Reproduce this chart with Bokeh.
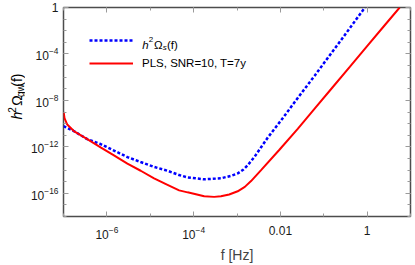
import numpy as np
from bokeh.plotting import figure
from bokeh.layouts import row
from bokeh.core.properties import value
from bokeh.models import (LogAxis, FixedTicker, LogTickFormatter, Label,
                          Legend, LegendItem)
from bokeh.embed import file_html
from bokeh.resources import INLINE

# ---- data (log10 of frequency [Hz] and of h^2 Omega_gw) ----
signal_logf = [-7.0, -6.954, -6.762, -6.452, -6.145, -5.837, -5.527, -5.22,
               -4.912, -4.602, -4.334, -4.14, -3.756, -3.37, -3.14, -2.984,
               -2.85, -2.753, -2.6, -2.445, -2.29, -1.98, -1.6, -1.21, -0.83,
               -0.6, -0.05]
signal_logomega = [-10.22, -10.30, -10.64, -11.34, -11.76, -12.32, -12.88,
                   -13.31, -13.73, -14.06, -14.43, -14.63, -14.80, -14.71,
                   -14.5, -14.29, -13.95, -13.58, -12.88, -12.04, -11.2, -9.7,
                   -7.8, -5.87, -3.96, -2.8, 0.0]

pls_logf = [-7.0, -6.993, -6.977, -6.914, -6.762, -6.452, -6.145, -5.837,
            -5.527, -5.22, -4.912, -4.602, -4.334, -4.14, -3.756, -3.527,
            -3.37, -3.18, -2.984, -2.82, -2.676, -2.445, -2.022, -1.6, -1.2,
            -0.8, -0.4, 0.0, 0.4, 0.75]
pls_logomega = [-9.0, -9.09, -9.52, -10.08, -10.64, -11.34, -12.04, -12.74,
                -13.45, -14.06, -14.71, -15.27, -15.75, -15.92, -16.25,
                -16.31, -16.25, -16.1, -15.83, -15.45, -14.95, -14.0, -12.25,
                -10.45, -8.67, -6.89, -5.12, -3.33, -1.55, 0.0]

x_major = [1e-6, 1e-4, 1e-2, 1]
x_minor = [10.0 ** k for k in range(-7, 2)]
y_major = [1, 1e-4, 1e-8, 1e-12, 1e-16]
y_minor = [10.0 ** k for k in range(-18, 1)]

pls_label = "PLS, SNR=10, T=7y"

FONT = "Liberation Sans"
FRAME = "#4d4d4d"
TICK = "#9a9a9a"
LW = 25  # width of the strip holding the vertical axis title

p = figure(width=415 - LW, height=265, x_axis_type="log", y_axis_type="log",
           x_range=(1e-7, 10), y_range=(1e-18, 1),
           output_backend="svg", toolbar_location=None,
           min_border_left=63 - LW, min_border_right=5, min_border_top=7,
           min_border_bottom=44)
p.grid.visible = False
p.outline_line_color = FRAME
p.outline_line_width = 1.5
p.background_fill_color = "white"
p.border_fill_color = "white"


def style_axis(ax, show_labels=True):
    ax.axis_line_color = None
    ax.major_tick_in = 5
    ax.major_tick_out = 0
    ax.minor_tick_in = 3
    ax.minor_tick_out = 0
    ax.major_tick_line_color = TICK
    ax.minor_tick_line_color = TICK
    ax.major_label_text_font = FONT
    ax.major_label_text_color = "#1a1a1a"
    ax.major_label_text_font_size = "12px"
    if not show_labels:
        ax.major_label_text_font_size = "1px"
        ax.major_label_text_alpha = 0
        ax.major_label_standoff = 0


xt = FixedTicker(ticks=x_major, minor_ticks=x_minor)
yt = FixedTicker(ticks=y_major, minor_ticks=y_minor)

xa = p.xaxis[0]
xa.ticker = xt
xa.formatter = LogTickFormatter(min_exponent=3)
style_axis(xa)
xa.major_label_standoff = 9
xa.axis_label = "f [Hz]"
xa.axis_label_text_font = FONT
xa.axis_label_text_font_style = "normal"
xa.axis_label_text_font_size = "14px"
xa.axis_label_standoff = 5

ya = p.yaxis[0]
ya.ticker = yt
ya.formatter = LogTickFormatter(min_exponent=3)
style_axis(ya)
ya.major_label_standoff = 5

top = LogAxis(ticker=FixedTicker(ticks=x_major, minor_ticks=x_minor))
style_axis(top, show_labels=False)
right = LogAxis(ticker=FixedTicker(ticks=y_major, minor_ticks=y_minor))
style_axis(right, show_labels=False)
p.add_layout(top, "above")
p.add_layout(right, "right")

f_s = 10.0 ** np.array(signal_logf)
o_s = 10.0 ** np.array(signal_logomega)
f_p = 10.0 ** np.array(pls_logf)
o_p = 10.0 ** np.array(pls_logomega)

r_blue = p.line(f_s, o_s, line_color="#0000ff", line_width=2.5,
                line_dash="3 2")
r_red = p.line(f_p, o_p, line_color="#ff0000", line_width=2)

legend = Legend(items=[LegendItem(label="\u2009", renderers=[r_blue]),
                       LegendItem(label=pls_label, renderers=[r_red])],
                location=(26, 143), border_line_color=None,
                background_fill_alpha=0, padding=0, margin=0, spacing=3,
                glyph_width=44, glyph_height=20, label_height=20,
                label_standoff=9, label_text_font=FONT,
                label_text_font_size="11.5px", label_text_color="black")
p.add_layout(legend)


def piece(text, x, y, size, style="normal"):
    p.add_layout(Label(x=x, y=y, x_units="screen", y_units="screen",
                       text=text, text_font=FONT, text_font_size=size,
                       text_font_style=style, text_color="black",
                       text_baseline="alphabetic", text_align="left"))


# rich legend text for the signal: h^2 Omega_s(f)
base_y = 172
piece("h", 78.7, base_y, "11.5px", "italic")
piece("2", 85.3, base_y + 5, "8px")
piece("Ω", 90.5, base_y, "11.5px")
piece("s", 99.3, base_y - 3, "8px", "italic")
piece("(f)", 103.5, base_y, "11.5px")

# ---- strip with the vertical axis title h^2 Omega_gw(f) ----
lab = figure(width=LW, height=265, x_range=(0, LW), y_range=(0, 265),
             output_backend="svg", toolbar_location=None, min_border=0)
lab.axis.visible = False
lab.grid.visible = False
lab.outline_line_color = None
lab.background_fill_color = "white"
lab.border_fill_color = "white"


def vpiece(text, x, y, size, style="normal"):
    lab.text(x=[x], y=[y], text=[text], angle=np.pi / 2,
             text_font=value(FONT), text_font_size=value(size),
             text_font_style=value(style), text_color="black",
             text_baseline=value("alphabetic"), text_align=value("left"))


bx = 16.5
vpiece("h", bx, 123, "14px", "italic")
vpiece("2", bx - 5.5, 131.5, "10px")
vpiece("Ω", bx, 140.5, "14px")
vpiece("gw", bx + 3, 151.5, "10px")
vpiece("(f)", bx, 164.5, "14px")

layout = row(lab, p, spacing=0)
open("out.html", "w").write(file_html(layout, INLINE))
